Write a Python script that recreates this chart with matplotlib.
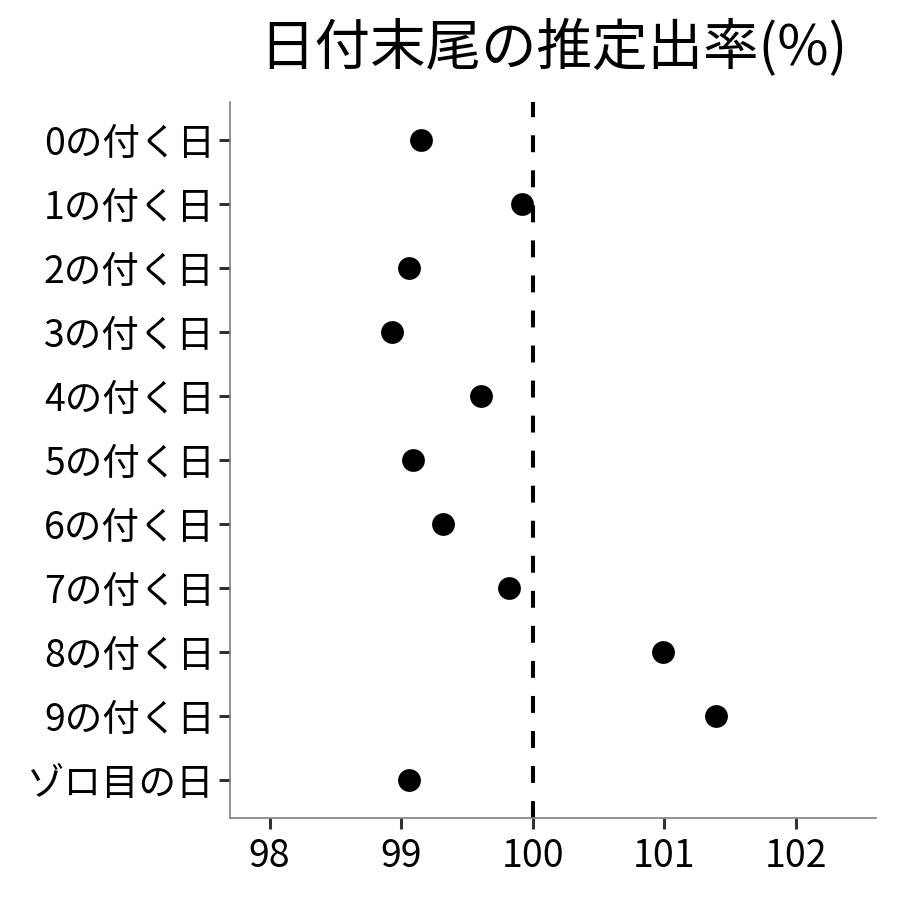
import matplotlib
matplotlib.use("Agg")
import matplotlib.pyplot as plt

plt.rcParams['font.family'] = ['Noto Sans CJK JP', 'DejaVu Sans']

categories = ["0の付く日", "1の付く日", "2の付く日", "3の付く日", "4の付く日",
              "5の付く日", "6の付く日", "7の付く日", "8の付く日", "9の付く日", "ゾロ目の日"]
values = [99.15, 99.92, 99.06, 98.93, 99.61, 99.09, 99.32, 99.82, 100.99, 101.39, 99.06]
xticks = [98, 99, 100, 101, 102]
title = "日付末尾の推定出率(%)"

fig = plt.figure(figsize=(9, 9), dpi=100)
ax = fig.add_axes([0.2556, 0.0911, 0.7178, 0.7956])

ypos = list(range(len(categories)))
ax.axvline(100, color='black', linestyle=(0, (4.2, 4.5)), linewidth=2.9, zorder=1)
ax.scatter(values, ypos, s=270, color='black', zorder=3, linewidths=0)

ax.set_yticks(ypos)
ax.set_yticklabels(categories)
ax.set_ylim(len(categories) - 0.4, -0.6)
ax.set_xlim(97.7, 102.61)
ax.set_xticks(xticks)
ax.set_xticklabels([str(x) for x in xticks])

for side in ['top', 'right']:
    ax.spines[side].set_visible(False)
for side in ['left', 'bottom']:
    ax.spines[side].set_color('#808080')
    ax.spines[side].set_linewidth(1.2)

ax.tick_params(axis='both', colors='#333333', length=8, width=2.2, labelsize=27, labelcolor='black', pad=3)
ax.tick_params(axis='x', pad=6)

fig.suptitle(title, x=0.6144, y=0.978, fontsize=40, va='top')

fig.savefig("out.png", dpi=100, facecolor='white')
